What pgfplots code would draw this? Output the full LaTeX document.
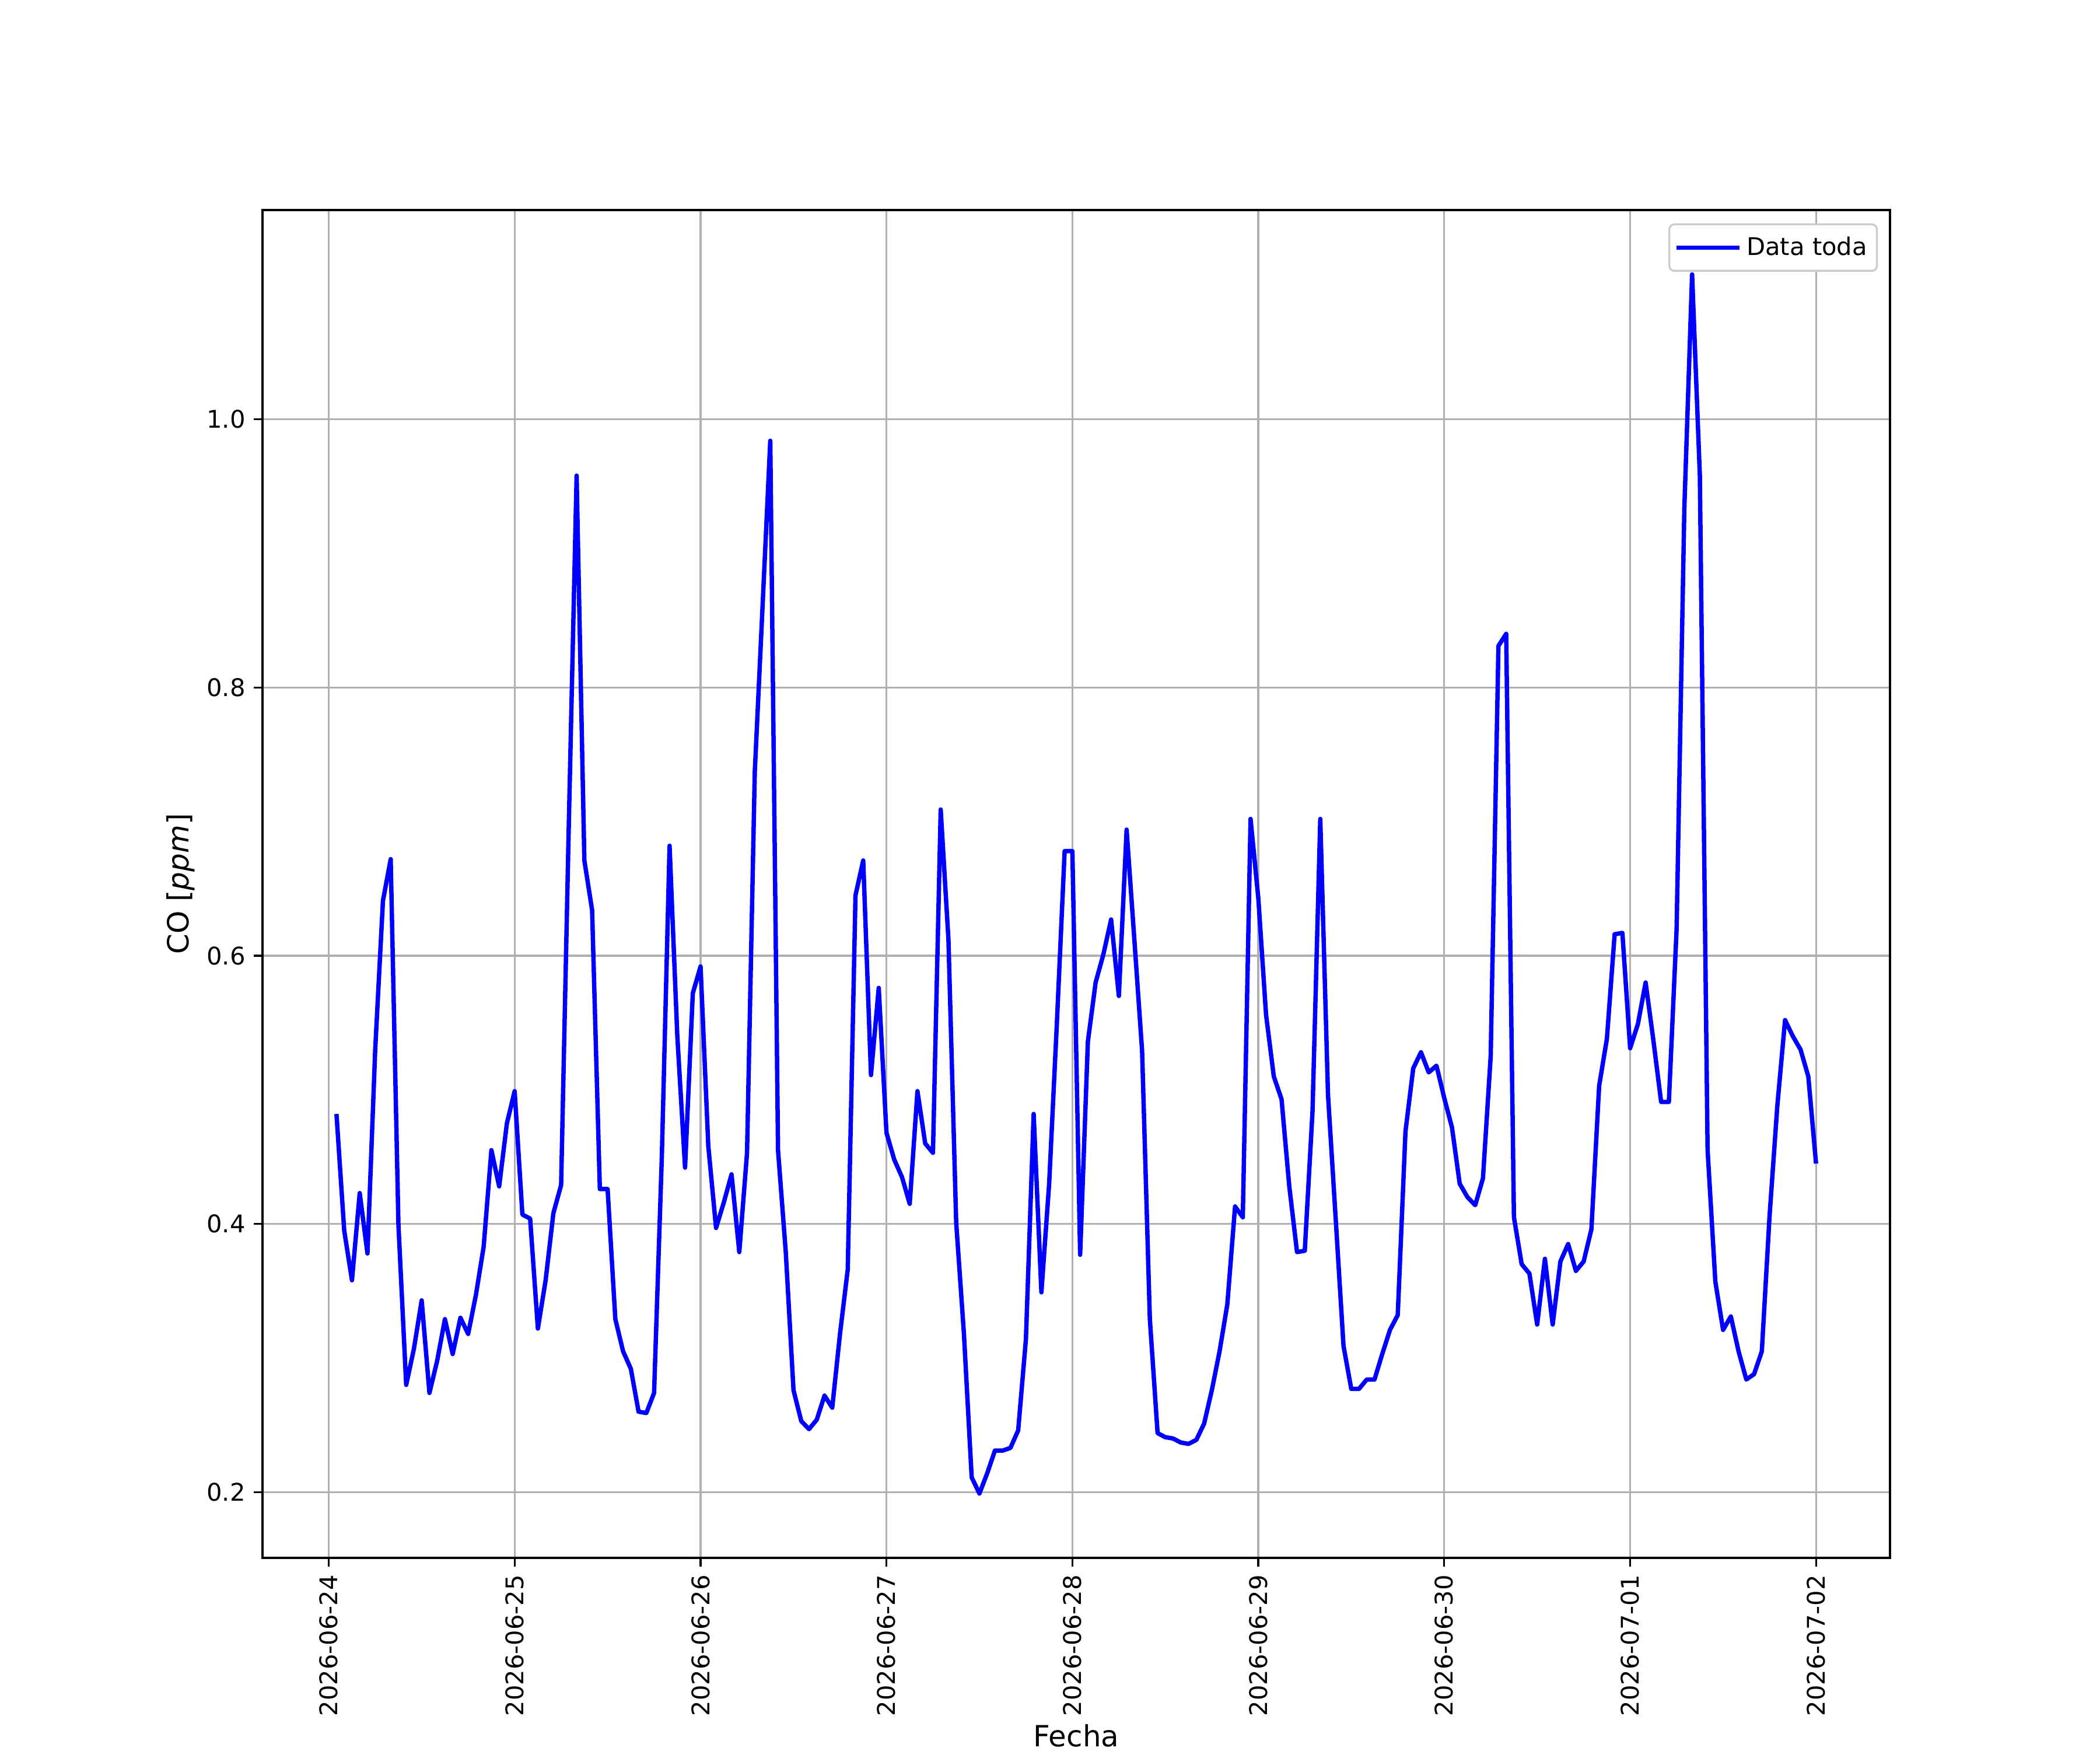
\documentclass[border=0pt]{standalone}
\usepackage{fontspec}
\setmainfont{DejaVu Sans}
\usepackage{pgfplots}
\pgfplotsset{compat=1.18}
\pgfplotstableread{
h v
1 0.482
2 0.395
3 0.358
4 0.423
5 0.378
6 0.530
7 0.641
8 0.672
9 0.399
10 0.280
11 0.307
12 0.343
13 0.274
14 0.298
15 0.329
16 0.303
17 0.330
18 0.318
19 0.347
20 0.383
21 0.455
22 0.428
23 0.475
24 0.499
25 0.407
26 0.404
27 0.322
28 0.358
29 0.408
30 0.429
31 0.700
32 0.958
33 0.671
34 0.634
35 0.426
36 0.426
37 0.329
38 0.305
39 0.292
40 0.260
41 0.259
42 0.274
43 0.450
44 0.682
45 0.540
46 0.442
47 0.572
48 0.592
49 0.458
50 0.397
51 0.416
52 0.437
53 0.379
54 0.453
55 0.737
56 0.860
57 0.984
58 0.455
59 0.379
60 0.276
61 0.253
62 0.247
63 0.254
64 0.272
65 0.263
66 0.318
67 0.366
68 0.645
69 0.671
70 0.511
71 0.576
72 0.468
73 0.448
74 0.435
75 0.415
76 0.499
77 0.460
78 0.453
79 0.709
80 0.612
81 0.401
82 0.318
83 0.211
84 0.199
85 0.214
86 0.231
87 0.231
88 0.233
89 0.246
90 0.314
91 0.482
92 0.349
93 0.430
94 0.550
95 0.678
96 0.678
97 0.377
98 0.536
99 0.580
100 0.601
101 0.627
102 0.570
103 0.694
104 0.612
105 0.529
106 0.329
107 0.244
108 0.241
109 0.240
110 0.237
111 0.236
112 0.239
113 0.251
114 0.276
115 0.305
116 0.340
117 0.413
118 0.405
119 0.702
120 0.643
121 0.556
122 0.510
123 0.493
124 0.428
125 0.379
126 0.380
127 0.484
128 0.702
129 0.496
130 0.403
131 0.309
132 0.277
133 0.277
134 0.284
135 0.284
136 0.303
137 0.321
138 0.332
139 0.469
140 0.516
141 0.528
142 0.513
143 0.518
144 0.494
145 0.472
146 0.430
147 0.420
148 0.414
149 0.434
150 0.525
151 0.831
152 0.840
153 0.405
154 0.370
155 0.363
156 0.325
157 0.374
158 0.325
159 0.372
160 0.385
161 0.365
162 0.372
163 0.396
164 0.503
165 0.538
166 0.616
167 0.617
168 0.531
169 0.549
170 0.580
171 0.537
172 0.491
173 0.491
174 0.620
175 0.934
176 1.108
177 0.958
178 0.455
179 0.357
180 0.321
181 0.331
182 0.305
183 0.284
184 0.288
185 0.305
186 0.406
187 0.488
188 0.552
189 0.540
190 0.530
191 0.510
192 0.445
}\datatable
\begin{document}
\begin{tikzpicture}
\path[use as bounding box] (-108pt,-79.2pt) rectangle (756pt,640.8pt);
\begin{axis}[
  at={(0,0)}, anchor=south west,
  scale only axis, width=669.6pt, height=554.4pt,
  xmin=-8.55, xmax=201.55, ymin=0.151, ymax=1.156,
  xtick={0,24,48,72,96,120,144,168,192},
  xticklabels={2026-06-24,2026-06-25,2026-06-26,2026-06-27,2026-06-28,2026-06-29,2026-06-30,2026-07-01,2026-07-02},
  x tick label style={rotate=90, anchor=east, font=\fontsize{10}{12}\selectfont},
  ytick={0.2,0.4,0.6,0.8,1.0},
  yticklabel style={font=\fontsize{10}{12}\selectfont, /pgf/number format/.cd, fixed, fixed zerofill, precision=1},
  /pgf/number format/assume math mode=true,
  grid=major,
  major grid style={color=black!31, line width=0.8pt},
  axis line style={line width=0.8pt},
  tick style={black, line width=0.8pt},
  tick align=outside, major tick length=3.5pt,
  xtick pos=bottom, ytick pos=left,
  xlabel={Fecha}, ylabel={CO [\textit{ppm}]},
  label style={font=\fontsize{12}{14}\selectfont},
  xlabel style={yshift=3.5pt},
  ylabel style={yshift=-2pt},
  legend style={at={(1,1)}, anchor=north east, xshift=-5pt, yshift=-5.5pt,
    draw=black!20, line width=0.8pt, rounded corners=2pt, font=\fontsize{10}{12}\selectfont,
    inner xsep=2pt, inner ysep=3pt},
  legend cell align=left,
  legend image code/.code={\draw[#1, line width=1.8pt] (0pt,0pt) -- (22pt,0pt); \path (0pt,0pt) -- (26pt,0pt);},
]
\addplot[color={rgb,255:red,0;green,0;blue,255}, line width=1.8pt, line join=round] table[x=h, y=v] {\datatable};
\addlegendentry{Data toda}
\end{axis}
\end{tikzpicture}
\end{document}
